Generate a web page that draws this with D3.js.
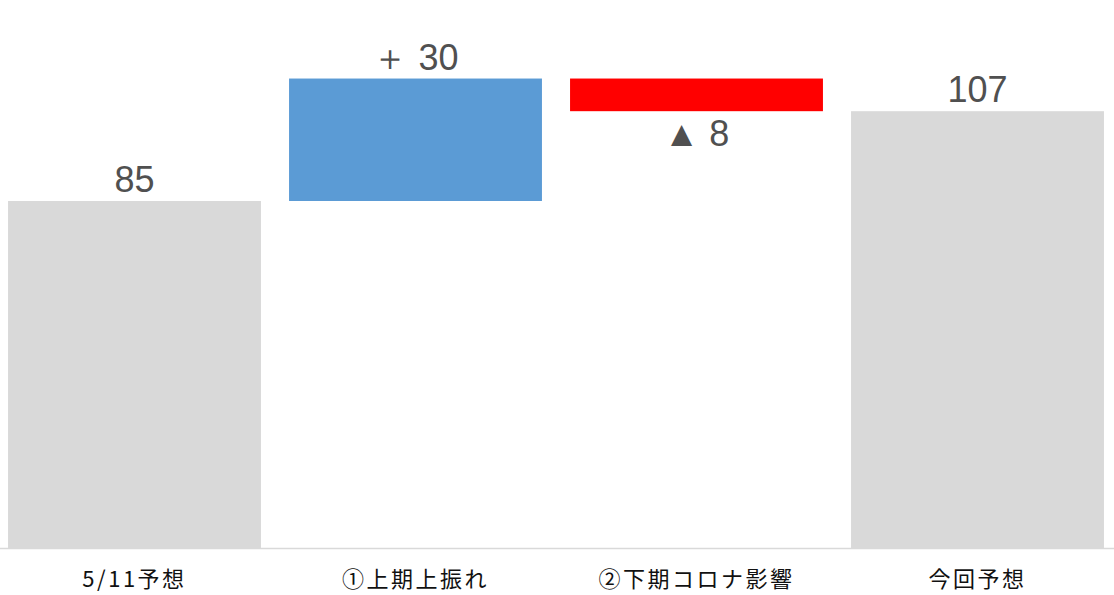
<!DOCTYPE html>
<html>
<head>
<meta charset="utf-8">
<script src="https://cdn.jsdelivr.net/npm/d3@7"></script>
<style>
  body { margin: 0; background: #fff; }
  svg { display: block; }
  .cat { font-family: "Noto Sans CJK JP", sans-serif; font-size: 22px; letter-spacing: 2.5px; fill: #111; }
  .val { font-family: "Liberation Sans", Arial, sans-serif; font-size: 36px; fill: #505050; }
</style>
</head>
<body>
<svg id="chart" width="1114" height="595"></svg>
<script>
// waterfall: start, up, down, result
const categories = ["5/11予想", "①上期上振れ", "②下期コロナ影響", "今回予想"];
const deltas = [85, 30, -8, 107];
const kinds = ["total", "up", "down", "total"];
const valueLabels = ["85", "＋ 30", "▲ 8", "107"];

const colors = { total: "#d9d9d9", up: "#5b9bd5", down: "#ff0000" };

const svg = d3.select("#chart");
const W = 1114, baseY = 548;

// running start/end for each step
let run = 0;
const steps = categories.map((c, i) => {
    let lo, hi;
    if (kinds[i] === "total") { lo = 0; hi = deltas[i]; run = deltas[i]; }
    else { const s = run; run += deltas[i]; lo = Math.min(s, run); hi = Math.max(s, run); }
    return { cat: c, lo, hi, kind: kinds[i], label: valueLabels[i] };
});

const x = d3.scaleBand().domain(categories).range([-6, 1118]).paddingInner(0.1).paddingOuter(0.05);
const y = d3.scaleLinear().domain([0, 85]).range([baseY, 201]);

svg.append("g").selectAll("rect")
    .data(steps)
    .join("rect")
    .attr("x", d => x(d.cat))
    .attr("width", x.bandwidth())
    .attr("y", d => y(d.hi))
    .attr("height", d => y(d.lo) - y(d.hi))
    .attr("fill", d => colors[d.kind]);

// baseline
svg.append("line")
    .attr("x1", 0).attr("x2", W)
    .attr("y1", baseY + 0.5).attr("y2", baseY + 0.5)
    .attr("stroke", "#d9d9d9").attr("stroke-width", 1.5);

// category labels
svg.append("g").selectAll("text")
    .data(steps)
    .join("text")
    .attr("class", "cat")
    .attr("x", d => x(d.cat) + x.bandwidth() / 2)
    .attr("y", 587)
    .attr("text-anchor", "middle")
    .text(d => d.cat);

// value labels: above bar, except decreases go below
svg.append("g").selectAll("text")
    .data(steps)
    .join("text")
    .attr("class", "val")
    .attr("x", d => x(d.cat) + x.bandwidth() / 2)
    .attr("y", d => d.kind === "down" ? y(d.lo) + 35 : y(d.hi) - 9)
    .attr("text-anchor", "middle")
    .text(d => d.label);
</script>
</body>
</html>
